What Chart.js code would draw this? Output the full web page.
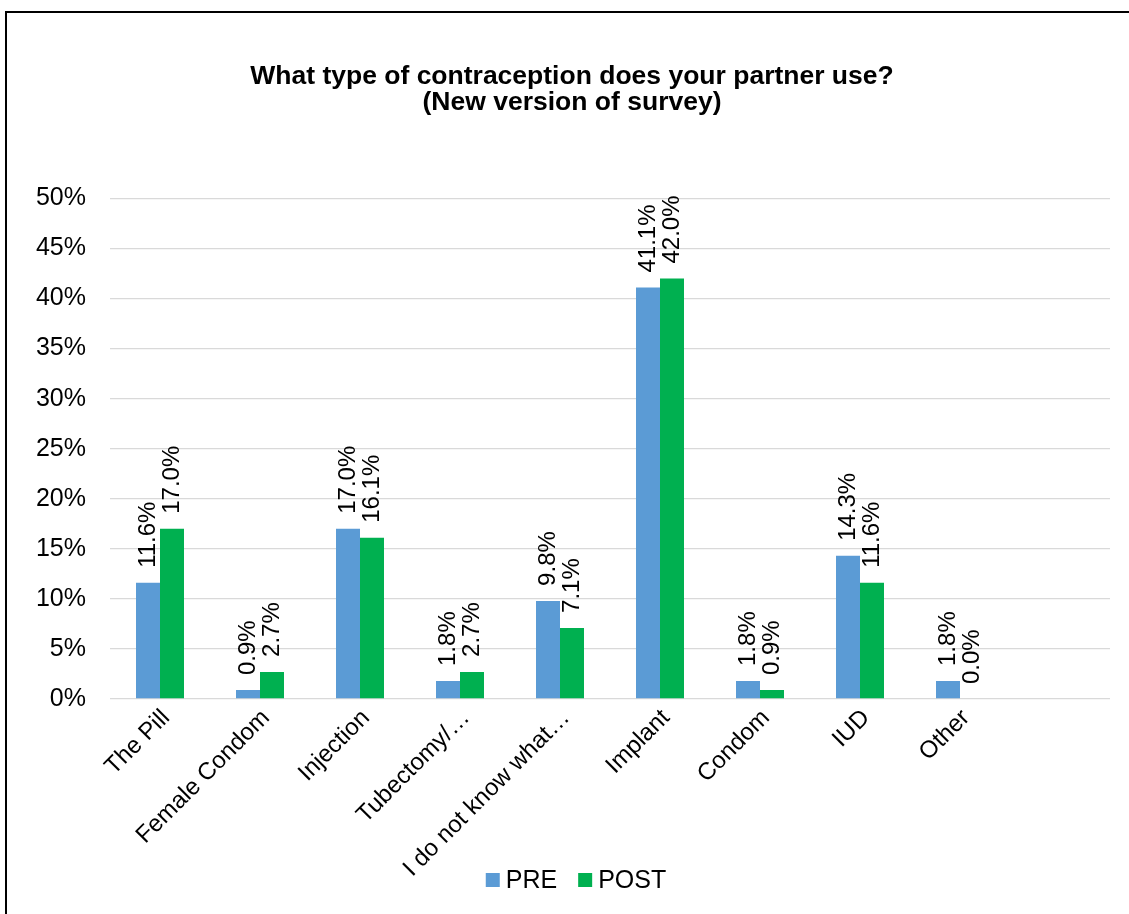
<!DOCTYPE html>
<html>
<head>
<meta charset="utf-8">
<script src="https://cdn.jsdelivr.net/npm/chart.js@4.4.1/dist/chart.umd.min.js"></script>
<style>
  html, body { margin: 0; padding: 0; background: #fff; overflow: hidden; }
  #wrap { position: relative; width: 1129px; height: 914px; }
  #frame { position: absolute; left: 5px; top: 11px; width: 2000px; height: 2000px;
           border-top: 2px solid #000; border-left: 2px solid #000; pointer-events: none; }
  canvas { position: absolute; left: 0; top: 0; }
</style>
</head>
<body>
<div id="wrap">
  <canvas id="c" width="1129" height="914"></canvas>
  <div id="frame"></div>
</div>
<script>
const titleLines = ['What type of contraception does your partner use?', '(New version of survey)'];
const categories = ['The Pill', 'Female Condom', 'Injection', 'Tubectomy/\u2026', 'I do not know what\u2026', 'Implant', 'Condom', 'IUD', 'Other', ''];
const preValues  = [11.6, 0.9, 17.0, 1.8, 9.8, 41.1, 1.8, 14.3, 1.8, null];
const postValues = [17.0, 2.7, 16.1, 2.7, 7.1, 42.0, 0.9, 11.6, 0.0, null];
const seriesNames = ['PRE', 'POST'];
const seriesColors = ['#5B9BD5', '#00B050'];
const yMin = 0, yMax = 50, yStep = 5;

const FONT = '"Liberation Sans", Arial, Helvetica, sans-serif';

const dataLabels = {
  id: 'dataLabels',
  afterDatasetsDraw(chart) {
    const ctx = chart.ctx;
    ctx.save();
    ctx.font = '24px ' + FONT;
    ctx.fillStyle = '#000';
    ctx.textAlign = 'left';
    ctx.textBaseline = 'middle';
    chart.data.datasets.forEach((ds, di) => {
      const meta = chart.getDatasetMeta(di);
      meta.data.forEach((bar, i) => {
        const v = ds.data[i];
        if (v === null || v === undefined) return;
        ctx.save();
        ctx.translate(bar.x, bar.y - 15);
        ctx.rotate(-Math.PI / 2);
        ctx.fillText(v.toFixed(1) + '%', 0, 0);
        ctx.restore();
      });
    });
    ctx.restore();
  }
};

// Legend drawn from the datasets (the built-in legend box would clip the long rotated labels)
const bottomLegend = {
  id: 'bottomLegend',
  afterDraw(chart, args, opts) {
    const ctx = chart.ctx;
    ctx.save();
    ctx.font = opts.fontSize + 'px ' + FONT;
    ctx.textBaseline = 'middle';
    ctx.textAlign = 'left';
    const items = chart.data.datasets.map(ds => ({
      text: ds.label, color: ds.backgroundColor, w: ctx.measureText(ds.label).width
    }));
    const itemW = it => opts.box + opts.boxGap + it.w;
    const total = items.reduce((s, it) => s + itemW(it), 0) + opts.itemGap * (items.length - 1);
    let x = opts.centerX - total / 2;
    const y = opts.centerY;
    items.forEach(it => {
      ctx.fillStyle = it.color;
      ctx.fillRect(x, y - opts.box / 2, opts.box, opts.box);
      ctx.fillStyle = '#000';
      ctx.fillText(it.text, x + opts.box + opts.boxGap, y + 1);
      x += itemW(it) + opts.itemGap;
    });
    ctx.restore();
  }
};

new Chart(document.getElementById('c'), {
  type: 'bar',
  data: {
    labels: categories,
    datasets: [
      { label: seriesNames[0], data: preValues, backgroundColor: seriesColors[0], borderWidth: 0,
        categoryPercentage: 0.48, barPercentage: 1.0 },
      { label: seriesNames[1], data: postValues, backgroundColor: seriesColors[1], borderWidth: 0,
        categoryPercentage: 0.48, barPercentage: 1.0 }
    ]
  },
  options: {
    responsive: false,
    animation: false,
    devicePixelRatio: 1,
    layout: { padding: { left: 34, right: 19, top: 0, bottom: 0 } },
    plugins: {
      title: {
        display: true,
        text: titleLines,
        color: '#000',
        font: { family: FONT, size: 26.5, weight: 'bold', lineHeight: 0.98 },
        padding: { top: 64, bottom: 82.5 }
      },
      legend: { display: false },
      bottomLegend: { fontSize: 25, box: 14, boxGap: 6, itemGap: 21, centerX: 576, centerY: 880 },
      tooltip: { enabled: false }
    },
    scales: {
      x: {
        grid: { display: false, drawTicks: false },
        border: { display: false },
        ticks: {
          color: '#000',
          font: { family: FONT, size: 24 },
          minRotation: 45, maxRotation: 45,
          autoSkip: false,
          padding: 5,
          labelOffset: 6
        },
        afterFit(s) { s.height = 215; }
      },
      y: {
        min: yMin, max: yMax,
        grid: { color: '#d9d9d9', lineWidth: 1.3, drawTicks: false },
        border: { display: false },
        ticks: {
          stepSize: yStep,
          color: '#000',
          font: { family: FONT, size: 25 },
          padding: 24,
          callback: v => v + '%'
        },
        afterFit(s) { s.width = 76; }
      }
    }
  },
  plugins: [dataLabels, bottomLegend]
});
</script>
</body>
</html>
